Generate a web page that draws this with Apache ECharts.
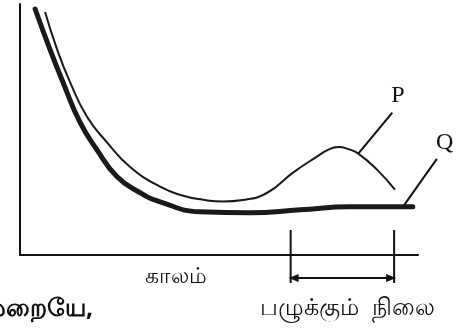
<!DOCTYPE html>
<html>
<head>
<meta charset="utf-8">
<script src="https://cdn.jsdelivr.net/npm/echarts@6/dist/echarts.min.js"></script>
<style>
  html, body { margin: 0; padding: 0; background: #fff; }
  #main { width: 472px; height: 331px; }
</style>
</head>
<body>
<div id="main"></div>
<script>
// data (time 0-100, level 0-100)
var timeP = [6.3, 9.3, 12.6, 16.8, 21.9, 27.6, 35.2, 41, 46, 51, 56, 62.1, 68.6, 74.6, 77.5, 80, 82.5, 85, 89.7, 94.2];
var levelP = [96.8, 82, 68.8, 55.2, 44.8, 35.2, 27.2, 23.6, 22, 21.3, 21.9, 24.8, 32.8, 39.2, 42, 43, 42.2, 40.4, 34, 26];
var timeQ = [3.8, 7.5, 10.8, 15.1, 19.3, 24.4, 30.2, 35.2, 45.2, 57.8, 70.4, 82.9, 98.7];
var levelQ = [98, 82, 68.8, 52.8, 42, 31.2, 24.8, 21.2, 17.2, 16.8, 18, 19.2, 19.2];
// ripening stage on the time axis
var ripeStage = [68, 94];

var chart = echarts.init(document.getElementById('main'));

function pairs(xs, ys) {
  return xs.map(function (x, i) { return [x, ys[i]]; });
}

var option = {
  backgroundColor: '#ffffff',
  animation: false,
  grid: { left: 20, right: 54, top: 4, bottom: 76 },
  xAxis: {
    type: 'value', min: 0, max: 100,
    axisLine: { lineStyle: { color: '#111', width: 2 } },
    axisTick: { show: false }, axisLabel: { show: false }, splitLine: { show: false }
  },
  yAxis: {
    type: 'value', min: 0, max: 100,
    axisLine: { show: true, lineStyle: { color: '#111', width: 2 } },
    axisTick: { show: false }, axisLabel: { show: false }, splitLine: { show: false }
  },
  series: [
    {
      name: 'P', type: 'line', smooth: 0.5, symbol: 'none',
      lineStyle: { color: '#1a1a1a', width: 2 },
      data: pairs(timeP, levelP)
    },
    {
      name: 'Q', type: 'line', smooth: 0.5, symbol: 'none',
      lineStyle: { color: '#1a1a1a', width: 5, cap: 'round', join: 'round' },
      data: pairs(timeQ, levelQ)
    }
  ]
};
chart.setOption(option);

// annotations placed from the axes
var a = chart.convertToPixel({ gridIndex: 0 }, [ripeStage[0], 0]);
var b = chart.convertToPixel({ gridIndex: 0 }, [ripeStage[1], 0]);
var pTip = chart.convertToPixel({ gridIndex: 0 }, [timeP[17], levelP[17]]);
var qTip = chart.convertToPixel({ gridIndex: 0 }, [timeQ[12] - 2.5, levelQ[12]]);
var arrowY = a[1] + 23;
var ink = '#111';

chart.setOption({
  graphic: [
    { type: 'line', shape: { x1: a[0], y1: a[1] - 25, x2: a[0], y2: a[1] + 28 }, style: { stroke: ink, lineWidth: 2 } },
    { type: 'line', shape: { x1: b[0], y1: b[1] - 25, x2: b[0], y2: b[1] + 28 }, style: { stroke: ink, lineWidth: 2 } },
    { type: 'line', shape: { x1: a[0] + 2, y1: arrowY, x2: b[0] - 2, y2: arrowY }, style: { stroke: ink, lineWidth: 2 } },
    { type: 'polygon', shape: { points: [[a[0] - 2, arrowY], [a[0] + 8, arrowY - 4], [a[0] + 8, arrowY + 4]] }, style: { fill: ink } },
    { type: 'polygon', shape: { points: [[b[0] + 2, arrowY], [b[0] - 8, arrowY - 4], [b[0] - 8, arrowY + 4]] }, style: { fill: ink } },
    { type: 'line', shape: { x1: pTip[0], y1: pTip[1], x2: pTip[0] + 34, y2: pTip[1] - 41 }, style: { stroke: ink, lineWidth: 2 } },
    { type: 'text', x: pTip[0] + 33, y: pTip[1] - 58, style: { text: 'P', font: '24px "Liberation Serif"', fill: ink, verticalAlign: 'middle' } },
    { type: 'line', shape: { x1: qTip[0], y1: qTip[1], x2: qTip[0] + 34, y2: qTip[1] - 48 }, style: { stroke: ink, lineWidth: 2 } },
    { type: 'text', x: qTip[0] + 33, y: qTip[1] - 64, style: { text: 'Q', font: '24px "Liberation Serif"', fill: ink, verticalAlign: 'middle' } },
    { type: 'text', x: 145, y: 277, style: { text: 'காலம்', font: '22px "Noto Sans", sans-serif', fill: ink, verticalAlign: 'middle' } },
    { type: 'text', x: (a[0] + b[0]) / 2 + 5, y: 308, style: { text: 'பழுக்கும்  நிலை', font: '500 24px "Noto Sans", sans-serif', fill: ink, align: 'center', verticalAlign: 'middle' } },
    { type: 'text', x: -22, y: 309, style: { text: 'முறையே,', font: 'bold 25px "Noto Sans", sans-serif', fill: ink, verticalAlign: 'middle' } }
  ]
});
</script>
</body>
</html>
